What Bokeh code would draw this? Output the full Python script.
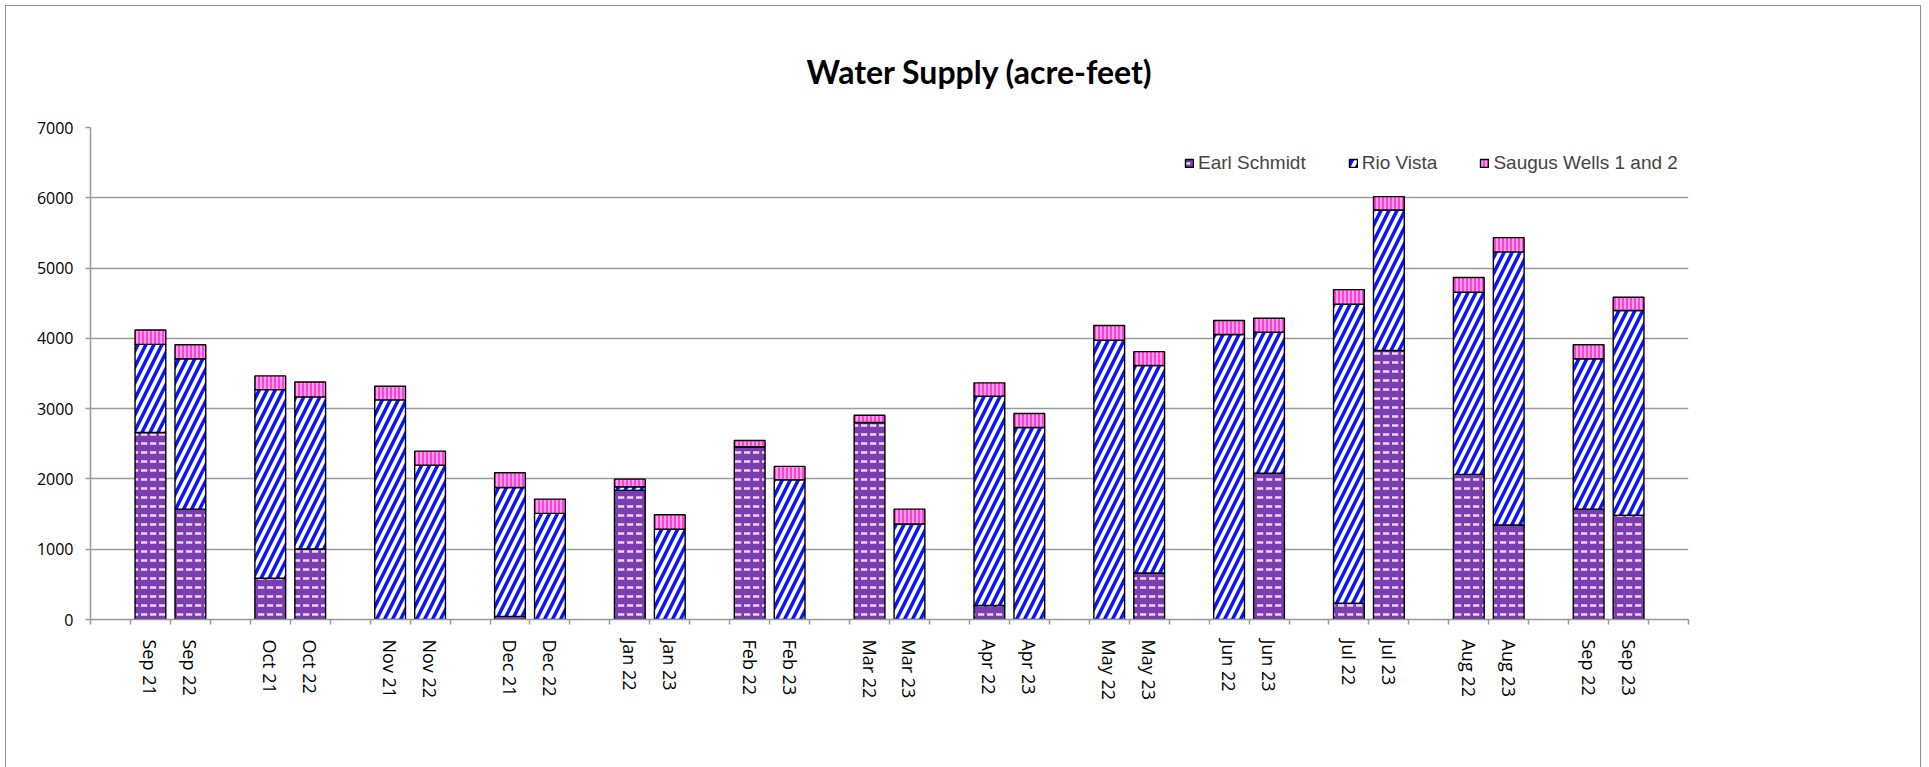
import math
from bokeh.plotting import figure
from bokeh.models import ColumnDataSource, FixedTicker, Range1d
from bokeh.embed import file_html
from bokeh.resources import INLINE

# ---- data (acre-feet) ----
months = ["Sep 21", "Sep 22", "Oct 21", "Oct 22", "Nov 21", "Nov 22", "Dec 21", "Dec 22",
          "Jan 22", "Jan 23", "Feb 22", "Feb 23", "Mar 22", "Mar 23", "Apr 22", "Apr 23",
          "May 22", "May 23", "Jun 22", "Jun 23", "Jul 22", "Jul 23", "Aug 22", "Aug 23",
          "Sep 22", "Sep 23"]
earl_schmidt = [2660, 1570, 587, 1003, 0, 0, 45, 0, 1837, 0, 2457, 0, 2803, 0, 199, 0,
                0, 662, 0, 2080, 232, 3828, 2065, 1345, 1570, 1483]
rio_vista = [1255, 2140, 2684, 2164, 3125, 2196, 1834, 1510, 52, 1283, 0, 1989, 0, 1359,
             2978, 2732, 3973, 2951, 4055, 2008, 4254, 1999, 2592, 3885, 2140, 2913]
saugus_wells = [204, 200, 195, 213, 193, 199, 209, 203, 108, 208, 90, 189, 104, 212, 190,
                198, 210, 198, 199, 199, 208, 189, 208, 203, 200, 189]
series_names = ["Earl Schmidt", "Rio Vista", "Saugus Wells 1 and 2"]
y_ticks = [0, 1000, 2000, 3000, 4000, 5000, 6000, 7000]

# category slots: one blank slot first, then pairs separated by a blank slot
n_slots = 1 + 3 * (len(months) // 2)
xs = [1 + 3 * (i // 2) + (i % 2) for i in range(len(months))]

src = ColumnDataSource(dict(x=xs, earl=earl_schmidt, rio=rio_vista, saugus=saugus_wells))

p = figure(width=1916, height=764, output_backend="svg", toolbar_location=None,
           x_range=Range1d(-0.5, n_slots - 0.5), y_range=Range1d(0, 7000),
           min_border_left=84, min_border_right=234, min_border_top=121, min_border_bottom=151)
p.outline_line_color = None
p.background_fill_color = "white"
p.border_fill_color = "white"
p.styles = {"border": "1.5px solid #8e8e8e", "margin-left": "5px", "margin-top": "5px"}

# title
p.title.text = "Water Supply (acre-feet)"
p.title.align = "left"
p.title.offset = 716
p.title.standoff = 74
p.title.text_font = "Lato"
p.title.text_font_style = "bold"
p.title.text_font_size = "32px"
p.title.text_color = "black"

p.vbar_stack(["earl", "rio", "saugus"], x="x", width=0.77, source=src,
             fill_color=["#7B3DB0", "white", "#FF40D2"],
             line_color="black", line_width=1.4,
             hatch_pattern=["horizontal_dash", "right_diagonal_line", "vertical_line"],
             hatch_color=["#EBD6F6", "#0A14FF", "#FFBDF2"],
             hatch_scale=[9, 16, 4],
             hatch_weight=[2.5, 3.5, 1.5],
             legend_label=series_names)

# axes
p.yaxis.ticker = FixedTicker(ticks=y_ticks)
p.yaxis.major_tick_out = 5
p.yaxis.major_tick_in = 0
p.yaxis.minor_tick_line_color = None
p.yaxis.major_label_standoff = 12
p.yaxis.axis_line_color = "#999999"
p.yaxis.axis_line_width = 1.5
p.yaxis.major_tick_line_color = "#999999"
p.yaxis.major_tick_line_width = 1.5
p.yaxis.major_label_text_font = "Open Sans"
p.yaxis.major_label_text_font_size = "16px"
p.yaxis.major_label_text_color = "black"

boundaries = [b - 0.5 for b in range(n_slots + 1)]
p.xaxis.ticker = FixedTicker(ticks=xs, minor_ticks=boundaries)
p.xaxis.major_label_overrides = {x: m for x, m in zip(xs, months)}
p.xaxis.major_tick_out = 0
p.xaxis.major_tick_in = 0
p.xaxis.minor_tick_out = 5
p.xaxis.minor_tick_in = 0
p.xaxis.minor_tick_line_color = "#999999"
p.xaxis.minor_tick_line_width = 1.5
p.xaxis.axis_line_color = "#999999"
p.xaxis.axis_line_width = 1.5
p.xaxis.major_label_orientation = -math.pi / 2
p.xaxis.major_label_standoff = 15
p.xaxis.major_label_text_font = "Open Sans"
p.xaxis.major_label_text_font_size = "18px"
p.xaxis.major_label_text_color = "black"

p.xgrid.visible = False
p.ygrid.grid_line_color = "#9a9a9a"
p.ygrid.grid_line_width = 1.5

# legend
lg = p.legend[0]
lg.orientation = "horizontal"
lg.location = (1094, 445)
lg.padding = 0
lg.margin = 0
lg.spacing = 42
lg.glyph_width = 10
lg.glyph_height = 10
lg.label_standoff = 4
lg.label_text_font = "Liberation Sans"
lg.label_text_font_size = "19px"
lg.border_line_alpha = 0
lg.background_fill_alpha = 0

open("out.html", "w").write(file_html(p, INLINE))
